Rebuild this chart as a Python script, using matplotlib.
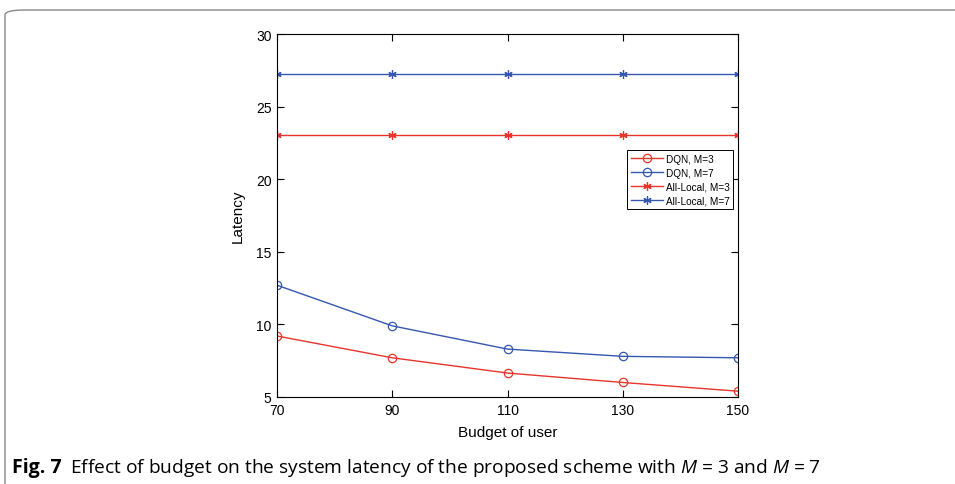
import matplotlib.pyplot as plt
from matplotlib.patches import FancyBboxPatch

budget = [70, 90, 110, 130, 150]
dqn_m3 = [9.2, 7.7, 6.65, 6.0, 5.4]
dqn_m7 = [12.7, 9.9, 8.3, 7.8, 7.7]
local_m3 = [23.05, 23.05, 23.05, 23.05, 23.05]
local_m7 = [27.25, 27.25, 27.25, 27.25, 27.25]

red = '#E8342B'
blue = '#3557B0'

plt.rcParams['font.family'] = ['Liberation Sans', 'DejaVu Sans']
plt.rcParams['mathtext.fontset'] = 'custom'
plt.rcParams['mathtext.rm'] = 'Open Sans'
plt.rcParams['mathtext.it'] = 'Open Sans:italic'

fig = plt.figure(figsize=(9.55, 4.85), dpi=100)

# rounded frame around the figure panel
frame = FancyBboxPatch((5 / 955, -0.1), 1.2, (485 - 11) / 485 + 0.1,
                       boxstyle='round,pad=0,rounding_size=0.02',
                       transform=fig.transFigure, fill=False,
                       edgecolor='#888888', linewidth=1.0, mutation_aspect=485 / 955)
fig.patches.append(frame)

ax = fig.add_axes([277 / 955, 1 - 398 / 485, (738 - 277) / 955, (398 - 35) / 485])

asterisk = (6, 2, 0)
ax.plot(budget, dqn_m3, '-o', color=red, lw=1.0, ms=6, mfc='none', mew=0.9, label='DQN, M=3')
ax.plot(budget, dqn_m7, '-o', color=blue, lw=1.0, ms=6, mfc='none', mew=0.9, label='DQN, M=7')
ax.plot(budget, local_m3, '-', marker=asterisk, color=red, lw=1.0, ms=6, mew=0.9, label='All-Local, M=3')
ax.plot(budget, local_m7, '-', marker=asterisk, color=blue, lw=1.0, ms=6, mew=0.9, label='All-Local, M=7')

ax.set_xlim(70, 150)
ax.set_ylim(5, 30)
ax.set_xticks(budget)
ax.set_yticks([5, 10, 15, 20, 25, 30])
ax.tick_params(direction='in', top=True, right=True, labelsize=10, length=5, width=0.8, pad=4)
for s in ax.spines.values():
    s.set_linewidth(0.8)

ax.set_xlabel('Budget of user', fontsize=11, labelpad=6)
ax.set_ylabel('Latency', fontsize=11, labelpad=8)

leg = ax.legend(loc='upper right', bbox_to_anchor=(0.989, 0.68), fontsize=7.2,
                frameon=True, fancybox=False, edgecolor='black', framealpha=1,
                borderpad=0.35, labelspacing=0.4, handlelength=3.2, handletextpad=0.3,
                borderaxespad=0)
leg.get_frame().set_linewidth(0.7)

fig.text(12 / 955, 1 - 468 / 485, 'Fig. 7', fontsize=14, va='center', ha='left',
         family=['Open Sans', 'DejaVu Sans'], fontweight='bold')
fig.text(70 / 955, 1 - 468 / 485,
         r'Effect of budget on the system latency of the proposed scheme with $M$ = 3 and $M$ = 7',
         fontsize=13.8, va='center', ha='left', family=['Open Sans', 'DejaVu Sans'])

fig.savefig('out.png', dpi=100)
